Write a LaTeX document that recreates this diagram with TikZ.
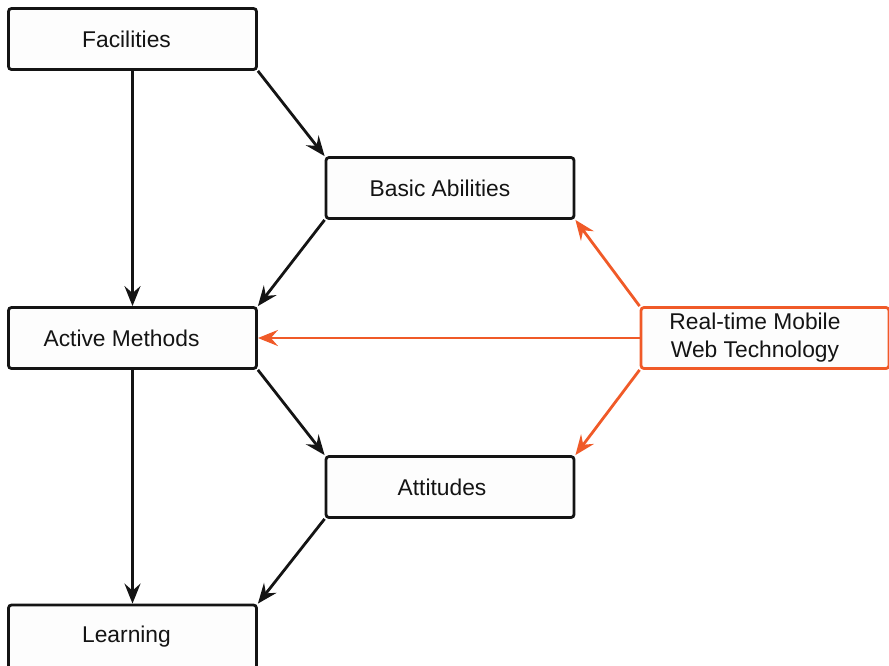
\documentclass[tikz,border=0pt]{standalone}
\usepackage{fontspec}
\setmainfont{Liberation Sans}
\usetikzlibrary{arrows.meta}
\definecolor{accent}{RGB}{240,90,40}
\definecolor{boxfill}{RGB}{253,253,253}
\definecolor{ink}{RGB}{20,20,20}
\tikzset{
  box/.style={draw=ink, fill=boxfill, line width=2.8pt, rounded corners=3pt,
    minimum width=248pt, minimum height=61pt, inner sep=0pt},
  hot/.style={box, draw=accent},
  lbl/.style={font=\fontsize{22.8pt}{28pt}\selectfont, text=ink, align=center, inner sep=0pt},
  link/.style={draw=ink, line width=2.8pt, -{Stealth[length=20pt, width=16pt, inset=7pt]}},
  hotlink/.style={link, draw=accent, fill=accent}
}
\begin{document}
\begin{tikzpicture}[x=1pt, y=-1pt]
  \useasboundingbox (0,0) rectangle (889,665);
  \clip (0,0) rectangle (889,665);

  % boxes
  \node[box] (fac) at (132.5,39) {};
  \node[box] (bas) at (450,188) {};
  \node[box] (act) at (132.5,338) {};
  \node[hot] (rt)  at (765,338) {};
  \node[box] (att) at (450,487) {};
  \node[box, minimum height=66pt] (lea) at (132.5,638) {};

  % labels
  \node[lbl] at ([xshift=-6pt]fac.center) {Facilities};
  \node[lbl] at ([xshift=-10pt]bas.center) {Basic Abilities};
  \node[lbl] at ([xshift=-11pt]act.center) {Active Methods};
  \node[lbl] at ([xshift=-10pt]rt.center) {Real-time Mobile\\Web Technology};
  \node[lbl] at ([xshift=-8pt]att.center) {Attitudes};
  \node[lbl] at (126.5,637) {Learning};

  % black connectors
  \draw[link] (fac.south) -- (act.north);
  \draw[link] (fac.south east) -- (bas.north west);
  \draw[link] (bas.south west) -- (act.north east);
  \draw[link] (act.south east) -- (att.north west);
  \draw[link] (att.south west) -- (lea.north east);
  \draw[link] (act.south) -- (lea.north);

  % orange connectors
  \draw[hotlink] (rt.north west) -- (bas.south east);
  \draw[hotlink] (rt.west) -- (act.east);
  \draw[hotlink] (rt.south west) -- (att.north east);
\end{tikzpicture}
\end{document}
